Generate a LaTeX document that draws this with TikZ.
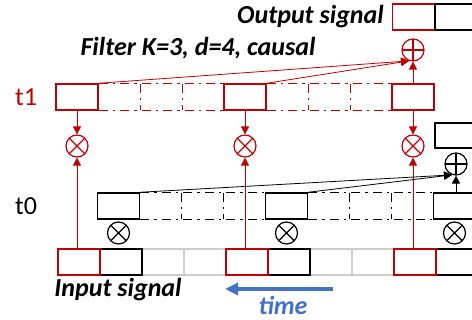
\documentclass[tikz,border=0pt]{standalone}
\usepackage{fontspec}
\setmainfont{Carlito}
\usetikzlibrary{arrows.meta}
\definecolor{darkred}{RGB}{192,0,0}
\definecolor{timeblue}{RGB}{68,114,196}
\definecolor{cellgray}{RGB}{205,205,205}

\begin{document}
\begin{tikzpicture}[x=1pt,y=-1pt,
    cell/.style={draw, minimum width=42pt, minimum height=26pt, inner sep=0pt, line width=1.5pt},
    ghost/.style={minimum width=42pt, minimum height=26pt, inner sep=0pt},
    dashdot/.style={line width=1.3pt, dash pattern=on 9pt off 5pt on 2.5pt off 5pt},
    mult/.style={circle, draw=#1, minimum size=22pt, inner sep=0pt, line width=1.2pt,
      path picture={\draw[#1, line width=1.2pt]
        (path picture bounding box.south west) -- (path picture bounding box.north east)
        (path picture bounding box.north west) -- (path picture bounding box.south east);}},
    adder/.style={circle, draw=#1, minimum size=22pt, inner sep=0pt, line width=1.2pt,
      path picture={\draw[#1, line width=1.2pt]
        (path picture bounding box.south) -- (path picture bounding box.north)
        (path picture bounding box.west) -- (path picture bounding box.east);}},
    conn/.style={line width=0.8pt, -{Triangle[length=8pt,width=8pt]}},
    bigtext/.style={font=\fontsize{26}{30}\selectfont\bfseries\itshape, inner sep=0pt}]
  \clip (0,0) rectangle (472,320);

  \foreach \i in {2,3,6,7}{
    \node[cell, draw=cellgray] (in\i) at (79+42*\i, 262) {};
  }
  \foreach \i in {1,5,9}{
    \node[cell, draw=black] (in\i) at (79+42*\i, 262) {};
  }
  \foreach \i in {0,4,8}{
    \node[cell, draw=darkred] (in\i) at (79+42*\i, 262) {};
  }

  \foreach \j in {0,...,8}{
    \pgfmathtruncatemacro{\m}{mod(\j,4)}
    \ifnum\m=0
      \node[cell, draw=darkred] (up\j) at (77+42*\j, 97) {};
      \node[cell, draw=black] (lo\j) at (118.5+42*\j, 206) {};
    \else
      \node[ghost] (up\j) at (77+42*\j, 97) {};
      \node[ghost] (lo\j) at (118.5+42*\j, 206) {};
    \fi
  }
  \foreach \a/\b in {0/4,4/8}{
    \draw[dashdot, darkred] (up\a.north east) -- (up\b.north west);
    \draw[dashdot, darkred] (up\a.south east) -- (up\b.south west);
    \draw[dashdot, black] (lo\a.north east) -- (lo\b.north west);
    \draw[dashdot, black] (lo\a.south east) -- (lo\b.south west);
  }
  \foreach \j in {1,2,5,6}{
    \draw[dashdot, darkred] (up\j.north east) -- (up\j.south east);
    \draw[dashdot, black] (lo\j.north east) -- (lo\j.south east);
  }

  \node[cell, draw=darkred] (out0) at (413.5, 17) {};
  \node[cell, draw=black] (out1) at (456, 17) {};
  \node[cell, draw=black, minimum height=25pt] (ex) at (456, 135.5) {};

  \node[adder=darkred] (sa) at (413, 50) {};
  \node[adder=black] (sb) at (456, 164) {};

  \foreach \k in {0,1,2}{
    \pgfmathtruncatemacro{\j}{4*\k}
    \node[mult=darkred] (ma\k) at (77+168*\k, 146) {};
    \node[mult=black] (mb\k) at (118.5+168*\k, 233) {};
    \draw[conn, darkred] (up\j.south) -- (ma\k);
    \draw[conn, darkred] (ma\k |- in\j.north) -- (ma\k);
  }

  \draw[conn, darkred] (up8.north) -- (sa);
  \draw[conn, darkred] (up0.north east) -- (sa.250);
  \draw[conn, darkred] (up4.north east) -- (sa.250);
  \draw[conn, black] (sb |- lo8.north) -- (sb);
  \draw[conn, black] (lo0.north east) -- (sb.250);
  \draw[conn, black] (lo4.north east) -- (sb.250);

  \node[bigtext, anchor=east] (outtext) at (384, 17) {Output signal};
  \node[bigtext] (filtertext) at (198, 48) {Filter K=3, d=4, causal};
  \node[bigtext] (intext) at (118, 290) {Input signal};
  \node[font=\fontsize{26}{30}\selectfont, text=darkred] (tone) at (26, 97) {t1};
  \node[font=\fontsize{26}{30}\selectfont] (tzero) at (26, 206) {t0};

  \coordinate (tr) at (333, 289);
  \coordinate (tl) at (225, 289);
  \draw[timeblue, line width=4pt, -{Triangle[length=13pt,width=12pt]}] (tr) -- (tl);
  \node[bigtext, text=timeblue] (timetext) at (283, 305) {time};
\end{tikzpicture}
\end{document}
